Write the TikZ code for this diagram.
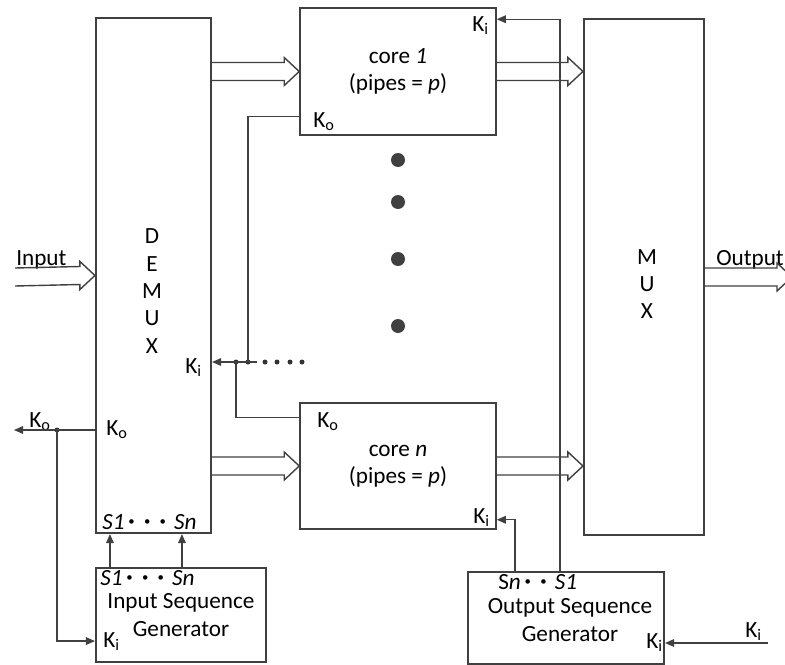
\documentclass[tikz,border=0pt]{standalone}
\usepackage{fontspec}
\setmainfont{Carlito}
\usetikzlibrary{arrows.meta, positioning, calc}
\definecolor{linegray}{HTML}{404040}
\newcommand{\seqdot}{\raisebox{0.14em}{\scalebox{0.55}{\textbullet}}}

\begin{document}
\begin{tikzpicture}[
  x=0.025cm, y=-0.025cm,
  font=\fontsize{16.5}{19.5}\selectfont,
  unit/.style={draw=linegray, line width=1.5pt, inner sep=0pt, align=center},
  core/.style={draw=linegray, line width=1.1pt, inner sep=0pt, align=center, minimum width=196*\pxu, minimum height=127*\pxu},
  letters/.style={inner sep=0pt, align=center},
  port/.style={anchor=base west, inner sep=0pt},
  wire/.style={draw=linegray, line width=0.8pt},
  sig/.style={wire, -{Triangle[length=6.5pt, width=5.5pt]}},
  bus/.style={draw=linegray, line width=1pt, to path={
    ($(\tikztostart)+(0,-9)$) -- ($(\tikztotarget)+(-15,-9)$) -- ++(0,-5)
    -- (\tikztotarget) -- ++(-15,14) -- ++(0,-5) -- ($(\tikztostart)+(0,9)$)}},
  bigdot/.style={circle, fill=linegray, inner sep=0pt, minimum size=14*\pxu},
  joint/.style={circle, fill=black!80, inner sep=0pt, minimum size=5*\pxu}
]

\def\pxu{0.025cm}
\useasboundingbox (0,0) rectangle (785,665);

% Blocks
\node[unit, minimum width=115*\pxu, minimum height=515*\pxu] (demux) at (153.5,275.5) {};
\node[letters] (demuxtxt) at (152,291) {D\\E\\M\\U\\X};
\node[unit, minimum width=120*\pxu, minimum height=516*\pxu] (mux) at (644,277) {};
\node[letters] (muxtxt) at (647,284) {M\\U\\X};
\node[core] (core1) at (398,71.5) {core \textit{1}\\(pipes = \textit{p})};
\node[core, minimum height=126*\pxu] (coren) at (398,466) {core \textit{n}\\(pipes = \textit{p})};
\node[unit, minimum width=170*\pxu, minimum height=94*\pxu] (inseq) at (181,615) {Input Sequence\\Generator};
\node[unit, minimum width=196*\pxu, minimum height=92*\pxu] (outseq) at (566,618) {};
\node[letters] (outseqtxt) at (570,620) {Output Sequence\\Generator};

% Port labels
\node[port] (core1ki) at (472,31) {K\textsubscript{i}};
\node[port] (core1ko) at (313,127) {K\textsubscript{o}};
\node[port] (corenko) at (317,427) {K\textsubscript{o}};
\node[port] (corenki) at (473,523) {K\textsubscript{i}};
\node[port] (demuxki) at (185,373) {K\textsubscript{i}};
\node[port] (demuxko) at (106,435) {K\textsubscript{o}};
\node[port] (extko) at (29,427) {K\textsubscript{o}};
\node[port] (demuxsel) at (102,529) {\textit{S1}\,\seqdot\hspace{.4em}\seqdot\hspace{.4em}\seqdot\hspace{.35em}\textit{Sn}};
\node[port] (inseqsel) at (100,585) {\textit{S1}\,\seqdot\hspace{.4em}\seqdot\hspace{.4em}\seqdot\hspace{.35em}\textit{Sn}};
\node[port] (inseqki) at (103,647) {K\textsubscript{i}};
\node[port] (outseqsel) at (498,589) {S\textit{n}\,\seqdot\hspace{.4em}\seqdot\hspace{.35em}\textit{S1}};
\node[port] (outseqki) at (646,648) {K\textsubscript{i}};
\node[port] (extki) at (745,637) {K\textsubscript{i}};
\node[port] (inlbl) at (16,265) {Input};
\node[port] (outlbl) at (716,265) {Output};

% Dots
\foreach \y [count=\i] in {160,202,259,326}
  \node[bigdot] (vdot\i) at (398,\y) {};
\foreach \x [count=\i] in {265,277,290,302}
  \node[joint] (hdot\i) at (\x,362) {};
\node[joint] (j1) at (248,362) {};
\node[joint] (j2) at (236,362) {};
\node[joint] (j3) at (57,430) {};

\coordinate (wireend) at (257,362);
\coordinate (extout) at (14,430);
\coordinate (extin) at (768,643);
\coordinate (inpt) at (15,277);
\coordinate (outpt) at (792,277);
\coordinate (c1in) at (demux.east |- core1.west);
\coordinate (cnin) at (demux.east |- coren.west);
\coordinate (c1out) at (mux.west |- core1.east);
\coordinate (cnout) at (mux.west |- coren.east);

% Data buses
\draw[bus] (inpt) to (demux.west);
\draw[bus] (c1in) to (core1.west);
\draw[bus] (cnin) to (coren.west);
\draw[bus] (core1.east) to (c1out);
\draw[bus] (coren.east) to (cnout);
\draw[bus] (mux.east) to (outpt);

% Control wires
\draw[sig] (wireend) -- (wireend -| demux.east);
\draw[wire] ($(core1.south west)+(0,-19)$) -| (j1.center);
\draw[wire] ($(coren.north west)+(0,15)$) -| (j2.center);
\draw[sig] (j3.center -| demux.west) -- (extout);
\draw[sig] (j3.center) |- ($(inseq.south west)+(0,-22)$);
\draw[sig] ($(inseq.north west)+(15,0)$) -- ($(demux.south west)+(15,0)$);
\draw[sig] ($(inseq.north west)+(87,0)$) -- ($(demux.south west)+(87,0)$);
\draw[sig] ($(outseq.north west)+(93,0)$) |- ($(core1.north east)+(0,12)$);
\draw[sig] ($(outseq.north west)+(48,0)$) |- ($(coren.south east)+(0,-10)$);
\draw[sig] (extin) -- (extin -| outseq.east);

\end{tikzpicture}
\end{document}
